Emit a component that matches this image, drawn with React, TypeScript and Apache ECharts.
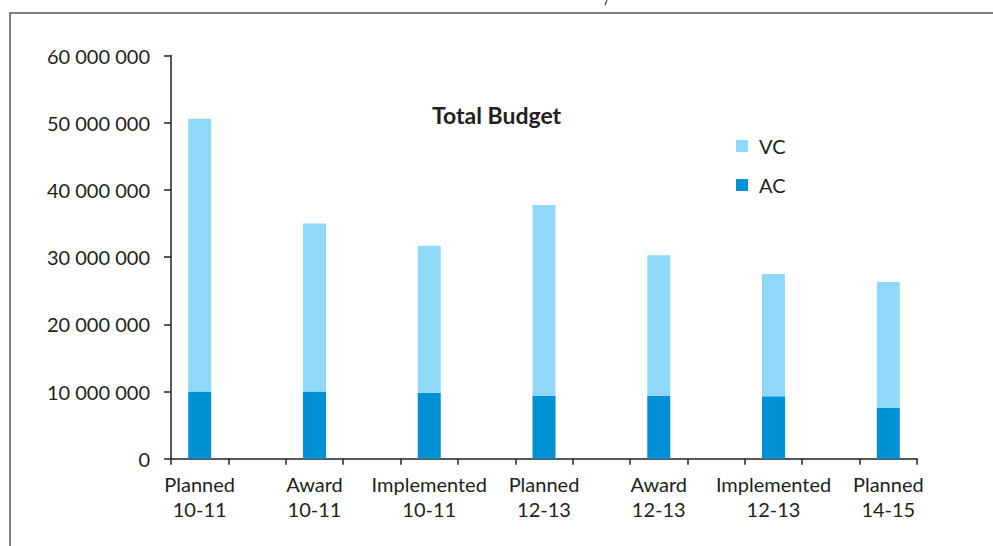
import React, { useEffect, useRef } from "react";
import * as echarts from "echarts";

const categories = ["Planned\n10-11", "Award\n10-11", "Implemented\n10-11", "Planned\n12-13", "Award\n12-13", "Implemented\n12-13", "Planned\n14-15"];
const acValues = [10000000, 10000000, 9800000, 9350000, 9350000, 9300000, 7550000];
const vcValues = [40600000, 25000000, 21900000, 28400000, 20950000, 18200000, 18750000];
const yTicks = [0, 10000000, 20000000, 30000000, 40000000, 50000000, 60000000];

const FONT = "Lato, 'Open Sans', sans-serif";
const TEXT = "#231f20";

function interleave<T>(arr: T[], blank: T): T[] {
  const out: T[] = [];
  arr.forEach((v, i) => {
    out.push(v);
    if (i < arr.length - 1) out.push(blank);
  });
  return out;
}

export default function App() {
  const ref = useRef<HTMLDivElement>(null);
  useEffect(() => {
    document.body.style.margin = "0";
    const chart = echarts.init(ref.current!, undefined, { renderer: "svg" });
    const axisCats = interleave(categories, "");
    const ac = interleave<number | string>(acValues, "-");
    const vc = interleave<number | string>(vcValues, "-");
    chart.setOption({
      animation: false,
      backgroundColor: "#ffffff",
      textStyle: { fontFamily: FONT },
      graphic: [
        {
          type: "rect",
          shape: { x: 10, y: 13, width: 1000, height: 600 },
          style: { fill: "none", stroke: "#555555", lineWidth: 1.5 },
          silent: true,
        },
        {
          type: "line",
          shape: { x1: 607, y1: 0, x2: 605, y2: 5 },
          style: { stroke: "#444", lineWidth: 1.2 },
          silent: true,
        },
        {
          type: "text",
          left: 432,
          top: 103,
          style: { text: "Total Budget", fontFamily: FONT, fontSize: 23, fontWeight: "bold", fill: TEXT },
        },
      ],
      legend: {
        data: ["VC", "AC"],
        orient: "vertical",
        left: 731,
        top: 131,
        itemWidth: 12,
        itemHeight: 12,
        itemGap: 19,
        icon: "rect",
        selectedMode: false,
        textStyle: { fontFamily: FONT, fontSize: 20, color: TEXT, lineHeight: 20, padding: [0, 0, 0, 6] },
      },
      grid: { left: 171, right: 76, top: 55.6, bottom: 87.3, containLabel: false },
      xAxis: {
        type: "category",
        data: axisCats,
        boundaryGap: true,
        axisLine: { lineStyle: { color: TEXT, width: 1.5 } },
        axisTick: { show: true, length: 6, alignWithLabel: false, interval: 0, lineStyle: { color: TEXT, width: 1.5 } },
        axisLabel: { interval: 0, margin: 13, color: TEXT, fontSize: 20, lineHeight: 25, fontFamily: FONT },
      },
      yAxis: {
        type: "value",
        min: yTicks[0],
        max: yTicks[yTicks.length - 1],
        interval: yTicks[1] - yTicks[0],
        splitLine: { show: false },
        axisLine: { show: true, lineStyle: { color: TEXT, width: 1.5 } },
        axisTick: { show: true, length: 7, lineStyle: { color: TEXT, width: 1.5 } },
        axisLabel: {
          margin: 21,
          color: TEXT,
          fontSize: 20,
          fontFamily: FONT,
          formatter: (v: number) => String(v).replace(/\B(?=(\d{3})+(?!\d))/g, " "),
        },
      },
      series: [
        {
          name: "AC",
          type: "bar",
          stack: "total",
          data: ac,
          barWidth: 23,
          itemStyle: { color: "#0090d6" },
        },
        {
          name: "VC",
          type: "bar",
          stack: "total",
          data: vc,
          barWidth: 23,
          itemStyle: { color: "#8fd8f7" },
        },
      ],
    });
    return () => chart.dispose();
  }, []);
  return <div ref={ref} style={{ width: 993, height: 546 }} />;
}
